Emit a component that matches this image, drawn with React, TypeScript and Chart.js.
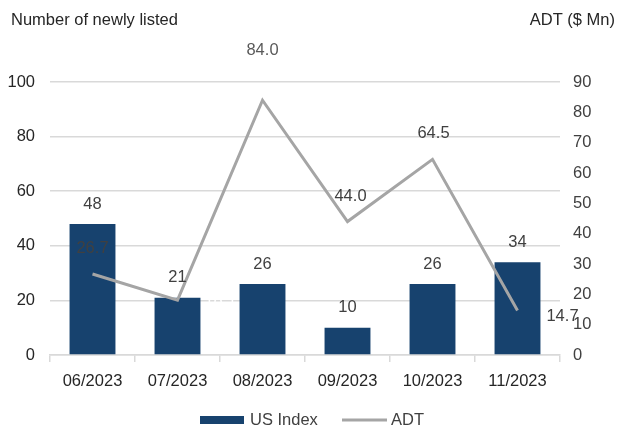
import { useEffect, useRef } from 'react';
import { Chart, registerables } from 'chart.js';

Chart.register(...registerables);

const categories = ['06/2023', '07/2023', '08/2023', '09/2023', '10/2023', '11/2023'];
const usIndex = [48, 21, 26, 10, 26, 34];
const adt = [26.7, 18.1, 84.0, 44.0, 64.5, 14.7];
const adtLabels = ['26.7', '18.1', '84.0', '44.0', '64.5', '14.7'];
const leftTitle = 'Number of newly listed';
const rightTitle = 'ADT ($ Mn)';
const barName = 'US Index';
const lineName = 'ADT';

// styling: label offsets relative to each line point (dx, dy) and colors
const lineLabelOffsets: [number, number][] = [
  [0, -26], [43, 0], [0, -50], [3, -25], [1, -26], [45, 6],
];
const lineLabelColors = ['#404040', '#ffffff', '#595959', '#404040', '#404040', '#404040'];

const FONT = '"Liberation Sans", Arial, sans-serif';
const FS = 16.5;
const BAR_COLOR = '#17426e';
const LINE_COLOR = '#a5a5a5';
const GRID_COLOR = '#d9d9d9';
const TEXT_COLOR = '#262626';

const labelPlugin = {
  id: 'customLabels',
  afterDatasetsDraw(chart: any) {
    const ctx = chart.ctx as CanvasRenderingContext2D;
    ctx.save();
    ctx.font = `${FS}px ${FONT}`;
    ctx.textAlign = 'center';
    ctx.textBaseline = 'middle';
    const barMeta = chart.getDatasetMeta(0);
    barMeta.data.forEach((el: any, i: number) => {
      ctx.fillStyle = '#404040';
      ctx.fillText(String(usIndex[i]), el.x, el.y - 20);
    });
    const lineMeta = chart.getDatasetMeta(1);
    lineMeta.data.forEach((el: any, i: number) => {
      const [dx, dy] = lineLabelOffsets[i];
      ctx.fillStyle = lineLabelColors[i];
      ctx.fillText(adtLabels[i], el.x + dx, el.y + dy);
    });
    ctx.restore();
  },
  afterDraw(chart: any) {
    const ctx = chart.ctx as CanvasRenderingContext2D;
    ctx.save();
    ctx.font = `${FS}px ${FONT}`;
    ctx.textBaseline = 'middle';
    ctx.fillStyle = TEXT_COLOR;
    ctx.textAlign = 'left';
    ctx.fillText(leftTitle, 11, 20);
    ctx.textAlign = 'right';
    ctx.fillText(rightTitle, 615, 20);
    // legend
    ctx.fillStyle = BAR_COLOR;
    ctx.fillRect(200, 416, 44, 8);
    ctx.fillStyle = '#404040';
    ctx.textAlign = 'left';
    ctx.fillText(barName, 250, 420);
    ctx.strokeStyle = LINE_COLOR;
    ctx.lineWidth = 3;
    ctx.beginPath();
    ctx.moveTo(342, 420);
    ctx.lineTo(387, 420);
    ctx.stroke();
    ctx.fillText(lineName, 391, 420);
    ctx.restore();
  },
};

export default function App() {
  const ref = useRef<HTMLCanvasElement | null>(null);
  useEffect(() => {
    if (!ref.current) return;
    const tickFont = { family: FONT, size: FS };
    const chart = new Chart(ref.current, {
      type: 'bar',
      data: {
        labels: categories,
        datasets: [
          {
            type: 'bar',
            label: barName,
            data: usIndex,
            backgroundColor: BAR_COLOR,
            yAxisID: 'y',
            categoryPercentage: 0.54,
            barPercentage: 1,
            order: 2,
          },
          {
            type: 'line',
            label: lineName,
            data: adt,
            borderColor: LINE_COLOR,
            borderWidth: 3,
            pointRadius: 0,
            tension: 0,
            yAxisID: 'y1',
            order: 1,
          },
        ],
      },
      plugins: [labelPlugin],
      options: {
        responsive: false,
        animation: false,
        devicePixelRatio: 1,
        layout: { padding: { top: 82, left: 0, right: 0, bottom: 0 } },
        plugins: {
          legend: { display: false },
          tooltip: { enabled: false },
          title: { display: false },
        },
        scales: {
          x: {
            grid: {
              offset: true,
              drawOnChartArea: false,
              tickLength: 7,
              color: GRID_COLOR,
              lineWidth: 1.5,
            },
            border: { color: GRID_COLOR, width: 1.5 },
            ticks: { color: TEXT_COLOR, font: tickFont, padding: 10, maxRotation: 0 },
            afterFit(s: any) { s.height = 71; },
          },
          y: {
            position: 'left',
            min: 0,
            max: 100,
            ticks: { stepSize: 20, padding: 15, color: TEXT_COLOR, font: tickFont },
            grid: { color: GRID_COLOR, lineWidth: 1.5, drawTicks: false },
            border: { display: false },
            afterFit(s: any) { s.width = 50; },
          },
          y1: {
            position: 'right',
            min: 0,
            max: 90,
            ticks: { stepSize: 10, padding: 13, color: '#404040', font: tickFont },
            grid: { display: false, drawTicks: false },
            border: { display: false },
            afterFit(s: any) { s.width = 60; },
          },
        },
      },
    } as any);
    return () => chart.destroy();
  }, []);
  return (
    <div style={{ position: 'fixed', left: 0, top: 0, width: 620, height: 426, background: '#fff' }}>
      <canvas ref={ref} width={620} height={426} />
    </div>
  );
}
